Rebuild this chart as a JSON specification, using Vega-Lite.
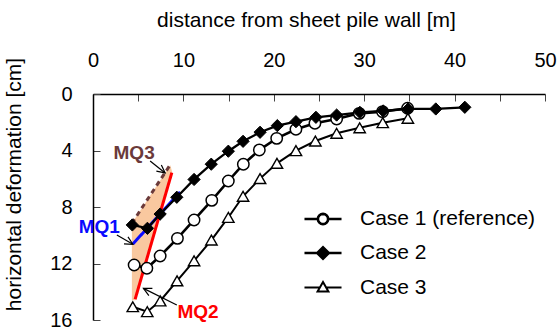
{
  "$schema": "https://vega.github.io/schema/vega-lite/v6.json",
  "width": 452,
  "height": 226,
  "autosize": "none",
  "padding": {"left": 93, "top": 94, "right": 14, "bottom": 15},
  "config": {
    "font": "Liberation Sans",
    "view": {"stroke": null},
    "axis": {"grid": false, "labelColor": "black", "titleColor": "black", "titleFontWeight": "normal", "domainColor": "black", "domainWidth": 1.5, "tickColor": "#444", "tickWidth": 1, "labelFontSize": 20, "titleFontSize": 21, "labelFlush": false, "labelOverlap": false}
  },
  "datasets": {
    "cases": [
      {"case": "Case 1 (reference)", "x": 4.55, "y": 12.11},
      {"case": "Case 1 (reference)", "x": 5.96, "y": 12.34},
      {"case": "Case 1 (reference)", "x": 7.43, "y": 11.47},
      {"case": "Case 1 (reference)", "x": 9.34, "y": 10.22},
      {"case": "Case 1 (reference)", "x": 11.18, "y": 8.92},
      {"case": "Case 1 (reference)", "x": 13.14, "y": 7.53},
      {"case": "Case 1 (reference)", "x": 14.97, "y": 6.16},
      {"case": "Case 1 (reference)", "x": 16.63, "y": 4.97},
      {"case": "Case 1 (reference)", "x": 18.4, "y": 3.96},
      {"case": "Case 1 (reference)", "x": 20.32, "y": 3.14},
      {"case": "Case 1 (reference)", "x": 22.45, "y": 2.5},
      {"case": "Case 1 (reference)", "x": 24.55, "y": 2.07},
      {"case": "Case 1 (reference)", "x": 26.95, "y": 1.77},
      {"case": "Case 1 (reference)", "x": 29.45, "y": 1.37},
      {"case": "Case 1 (reference)", "x": 32.03, "y": 1.25},
      {"case": "Case 1 (reference)", "x": 34.8, "y": 1.01},
      {"case": "Case 2", "x": 4.35, "y": 9.27},
      {"case": "Case 2", "x": 6.02, "y": 9.51},
      {"case": "Case 2", "x": 7.43, "y": 8.5},
      {"case": "Case 2", "x": 9.27, "y": 7.31},
      {"case": "Case 2", "x": 11.18, "y": 6.05},
      {"case": "Case 2", "x": 13.08, "y": 4.97},
      {"case": "Case 2", "x": 14.97, "y": 4.05},
      {"case": "Case 2", "x": 16.6, "y": 3.35},
      {"case": "Case 2", "x": 18.48, "y": 2.71},
      {"case": "Case 2", "x": 20.39, "y": 2.24},
      {"case": "Case 2", "x": 22.45, "y": 1.96},
      {"case": "Case 2", "x": 24.66, "y": 1.65},
      {"case": "Case 2", "x": 26.95, "y": 1.49},
      {"case": "Case 2", "x": 29.52, "y": 1.3},
      {"case": "Case 2", "x": 32.1, "y": 1.2},
      {"case": "Case 2", "x": 34.86, "y": 1.06},
      {"case": "Case 2", "x": 37.92, "y": 1.06},
      {"case": "Case 2", "x": 41.13, "y": 0.94},
      {"case": "Case 3", "x": 4.4, "y": 15.06},
      {"case": "Case 3", "x": 6.0, "y": 15.41},
      {"case": "Case 3", "x": 7.43, "y": 14.65},
      {"case": "Case 3", "x": 9.3, "y": 13.23},
      {"case": "Case 3", "x": 11.18, "y": 11.81},
      {"case": "Case 3", "x": 13.1, "y": 10.34},
      {"case": "Case 3", "x": 14.97, "y": 8.74},
      {"case": "Case 3", "x": 16.6, "y": 7.24},
      {"case": "Case 3", "x": 18.48, "y": 5.99},
      {"case": "Case 3", "x": 20.35, "y": 4.91},
      {"case": "Case 3", "x": 22.45, "y": 4.01},
      {"case": "Case 3", "x": 24.6, "y": 3.33},
      {"case": "Case 3", "x": 26.95, "y": 2.78},
      {"case": "Case 3", "x": 29.5, "y": 2.39},
      {"case": "Case 3", "x": 32.05, "y": 2.03},
      {"case": "Case 3", "x": 34.83, "y": 1.72}
    ],
    "shade": [
      {"o": 1, "x": 8.55, "y": 5.05},
      {"o": 2, "x": 4.3, "y": 9.15},
      {"o": 3, "x": 4.3, "y": 14.6},
      {"o": 4, "x": 4.7, "y": 14.6},
      {"o": 5, "x": 8.75, "y": 5.5}
    ],
    "mq": [
      {"id": "MQ1", "x": 4.41, "y": 10.62},
      {"id": "MQ1", "x": 9.64, "y": 6.93},
      {"id": "MQ2", "x": 4.66, "y": 14.53},
      {"id": "MQ2", "x": 8.72, "y": 5.57},
      {"id": "MQ3", "x": 4.3, "y": 9.15},
      {"id": "MQ3", "x": 8.45, "y": 5.1}
    ],
    "arrows": [
      {"seg": "a3s", "o": 1, "x": 6.32, "y": 4.74},
      {"seg": "a3s", "o": 2, "x": 7.98, "y": 5.59},
      {"seg": "a3h", "o": 1, "x": 7.01, "y": 5.46},
      {"seg": "a3h", "o": 2, "x": 7.98, "y": 5.59},
      {"seg": "a3h", "o": 3, "x": 7.56, "y": 5.02},
      {"seg": "a1s", "o": 1, "x": 2.64, "y": 9.98},
      {"seg": "a1s", "o": 2, "x": 4.41, "y": 10.64},
      {"seg": "a1h", "o": 1, "x": 3.43, "y": 10.61},
      {"seg": "a1h", "o": 2, "x": 4.41, "y": 10.64},
      {"seg": "a1h", "o": 3, "x": 3.87, "y": 10.11},
      {"seg": "a2s", "o": 1, "x": 9.27, "y": 14.94},
      {"seg": "a2s", "o": 2, "x": 5.58, "y": 13.76},
      {"seg": "a2h", "o": 1, "x": 6.57, "y": 13.76},
      {"seg": "a2h", "o": 2, "x": 5.58, "y": 13.76},
      {"seg": "a2h", "o": 3, "x": 6.18, "y": 14.27}
    ],
    "labels": [
      {"id": "MQ1", "x": 0.69, "y": 9.42},
      {"id": "MQ2", "x": 11.62, "y": 15.43},
      {"id": "MQ3", "x": 4.55, "y": 4.18}
    ]
  },
  "layer": [
    {
      "data": {"name": "shade"},
      "mark": {"type": "line", "fill": "#f9c89f", "strokeOpacity": 0, "strokeWidth": 0},
      "encoding": {
        "x": {"field": "x", "type": "quantitative", "scale": {"domain": [0, 50], "nice": false},
          "axis": {"orient": "top", "title": "distance from sheet pile wall [m]", "titleX": 213, "values": [0, 5, 10, 15, 20, 25, 30, 35, 40, 45, 50], "labelExpr": "datum.value % 10 === 0 ? datum.label : ''", "tickSize": -7, "labelPadding": 31, "titlePadding": 20}},
        "y": {"field": "y", "type": "quantitative", "scale": {"domain": [0, 16], "nice": false, "reverse": true},
          "axis": {"title": "horizontal deformation [cm]", "titleY": 90, "values": [0, 2, 4, 6, 8, 10, 12, 14, 16], "labelExpr": "datum.value % 4 === 0 ? datum.label : ''", "tickSize": -7, "labelPadding": 28, "titlePadding": 25}},
        "order": {"field": "o"}
      }
    },
    {
      "data": {"name": "mq"},
      "mark": {"type": "line", "strokeWidth": 3},
      "encoding": {
        "x": {"field": "x", "type": "quantitative"},
        "y": {"field": "y", "type": "quantitative"},
        "color": {"field": "id", "type": "nominal", "scale": {"domain": ["MQ1", "MQ2", "MQ3"], "range": ["#0a0aff", "#ff0000", "#6b3a3a"]}, "legend": null},
        "strokeDash": {"field": "id", "type": "nominal", "scale": {"domain": ["MQ1", "MQ2", "MQ3"], "range": [[1, 0], [1, 0], [5, 4]]}, "legend": null}
      }
    },
    {
      "data": {"name": "cases"},
      "mark": {"type": "line", "color": "black"},
      "encoding": {
        "x": {"field": "x", "type": "quantitative"},
        "y": {"field": "y", "type": "quantitative"},
        "strokeWidth": {"field": "case", "type": "nominal", "title": null, "scale": {"domain": ["Case 1 (reference)", "Case 2", "Case 3"], "range": [2.6, 2, 1]}}
      }
    },
    {
      "data": {"name": "cases"},
      "transform": [{"filter": "false"}],
      "mark": {"type": "point", "stroke": "black"},
      "encoding": {
        "x": {"field": "x", "type": "quantitative"},
        "y": {"field": "y", "type": "quantitative"},
        "shape": {"field": "case", "type": "nominal", "title": null,
          "scale": {"domain": ["Case 1 (reference)", "Case 2", "Case 3"], "range": [
            "M-1.3,0L-0.36,0M0.36,0L1.3,0M0.36,0L0.333,0.138L0.255,0.255L0.138,0.333L0,0.36L-0.138,0.333L-0.255,0.255L-0.333,0.138L-0.36,0L-0.333,-0.138L-0.255,-0.255L-0.138,-0.333L0,-0.36L0.138,-0.333L0.255,-0.255L0.333,-0.138Z",
            "M-1.3,0L1.3,0M-0.42,0L0,-0.42L0.42,0L0,0.42Z",
            "M-1.3,0L-0.22,0M0.22,0L1.3,0M0,-0.38L0.38,0.28L-0.38,0.28Z"
          ]},
          "legend": {
            "orient": "none", "legendX": 214, "legendY": 109, "padding": 0, "rowPadding": 7.5,
            "symbolSize": 812, "symbolOpacity": 1, "labelOffset": 21, "labelFontSize": 21, "labelColor": "black", "labelLimit": 300
          }},
        "fill": {"field": "case", "type": "nominal", "title": null, "scale": {"domain": ["Case 1 (reference)", "Case 2", "Case 3"], "range": ["white", "black", "white"]}},
        "strokeWidth": {"field": "case", "type": "nominal", "title": null}
      }
    },
    {
      "data": {"name": "cases"},
      "transform": [{"filter": "datum.case === 'Case 1 (reference)'"}],
      "mark": {"type": "point", "shape": "circle", "size": 130, "stroke": "black", "strokeWidth": 1.5, "fill": "white", "opacity": 1},
      "encoding": {
        "x": {"field": "x", "type": "quantitative"},
        "y": {"field": "y", "type": "quantitative"}
      }
    },
    {
      "data": {"name": "cases"},
      "transform": [{"filter": "datum.case === 'Case 2'"}],
      "mark": {"type": "point", "shape": "diamond", "size": 150, "stroke": "black", "strokeWidth": 1, "fill": "black", "opacity": 1},
      "encoding": {
        "x": {"field": "x", "type": "quantitative"},
        "y": {"field": "y", "type": "quantitative"}
      }
    },
    {
      "data": {"name": "cases"},
      "transform": [{"filter": "datum.case === 'Case 3'"}],
      "mark": {"type": "point", "shape": "triangle-up", "size": 130, "stroke": "black", "strokeWidth": 1.4, "fill": "white", "opacity": 1},
      "encoding": {
        "x": {"field": "x", "type": "quantitative"},
        "y": {"field": "y", "type": "quantitative"}
      }
    },
    {
      "data": {"name": "arrows"},
      "mark": {"type": "line", "color": "black", "strokeWidth": 1.2},
      "encoding": {
        "x": {"field": "x", "type": "quantitative"},
        "y": {"field": "y", "type": "quantitative"},
        "detail": {"field": "seg", "type": "nominal"},
        "order": {"field": "o"}
      }
    },
    {
      "data": {"name": "labels"},
      "mark": {"type": "text", "fontSize": 19, "fontWeight": "bold", "align": "center", "baseline": "middle"},
      "encoding": {
        "x": {"field": "x", "type": "quantitative"},
        "y": {"field": "y", "type": "quantitative"},
        "text": {"field": "id"},
        "color": {"field": "id", "type": "nominal", "legend": null}
      }
    }
  ]
}
